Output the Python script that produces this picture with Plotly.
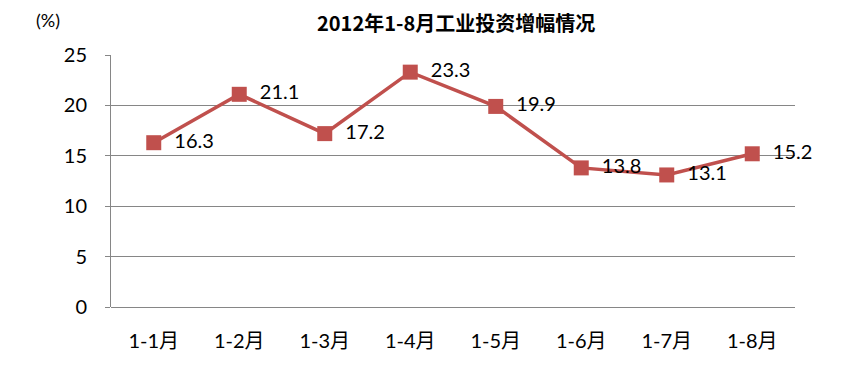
import plotly.graph_objects as go

categories = ["1-1月", "1-2月", "1-3月", "1-4月", "1-5月", "1-6月", "1-7月", "1-8月"]
values = [16.3, 21.1, 17.2, 23.3, 19.9, 13.8, 13.1, 15.2]
y_ticks = [0, 5, 10, 15, 20, 25]
title_text = "2012年1-8月工业投资增幅情况"
unit_text = "(%)"

RED = "#C0504D"
FONT = "Lato, 'Noto Sans CJK SC', sans-serif"
W, H = 845, 365
ML, MR, MT, MB = 111, 50, 55, 58
PW, PH = W - ML - MR, H - MT - MB


def px_to_paper(px, py):
    return (px - ML) / PW, (H - MB - py) / PH


fig = go.Figure()
fig.add_trace(go.Scatter(
    x=categories, y=values,
    mode="lines+markers+text",
    line=dict(color=RED, width=3.5),
    marker=dict(symbol="square", size=15, color=RED),
    text=["  " + f"{v:.1f}" for v in values],
    textposition="middle right",
    textfont=dict(size=20, color="#000000", family=FONT),
    cliponaxis=False,
    hoverinfo="skip",
))

tx, ty = px_to_paper(456, 22)
ux, uy = px_to_paper(48, 20)
fig.update_layout(
    width=W, height=H,
    margin=dict(l=ML, r=MR, t=MT, b=MB, autoexpand=False),
    paper_bgcolor="white", plot_bgcolor="white",
    showlegend=False,
    font=dict(family=FONT, size=20, color="#000000"),
    annotations=[
        dict(text="<b>" + title_text + "</b>", x=tx, y=ty, xref="paper", yref="paper",
             showarrow=False, font=dict(size=20, family="'Noto Sans CJK SC', sans-serif"),
             xanchor="center", yanchor="middle"),
        dict(text=unit_text, x=ux, y=uy, xref="paper", yref="paper", showarrow=False,
             font=dict(size=18, family=FONT), xanchor="center", yanchor="middle"),
    ],
)

fig.update_xaxes(
    type="category", range=[-0.5, 7.5],
    showgrid=False, showline=False, zeroline=False,
    ticks="", ticklabelstandoff=20,
    tickfont=dict(size=20, family=FONT),
)
fig.update_yaxes(
    range=[0, 25], tickvals=y_ticks,
    showgrid=True, gridcolor="#868686", gridwidth=1,
    showline=True, linecolor="#868686", linewidth=1,
    zeroline=True, zerolinecolor="#868686", zerolinewidth=1,
    ticks="outside", ticklen=5, tickcolor="#868686",
    ticklabelstandoff=14,
    tickfont=dict(size=20, family=FONT),
)

fig.write_html(
    "out.html",
    config={"displayModeBar": False, "staticPlot": True},
    post_script="document.body.style.margin='0';document.body.style.overflow='hidden';",
)
